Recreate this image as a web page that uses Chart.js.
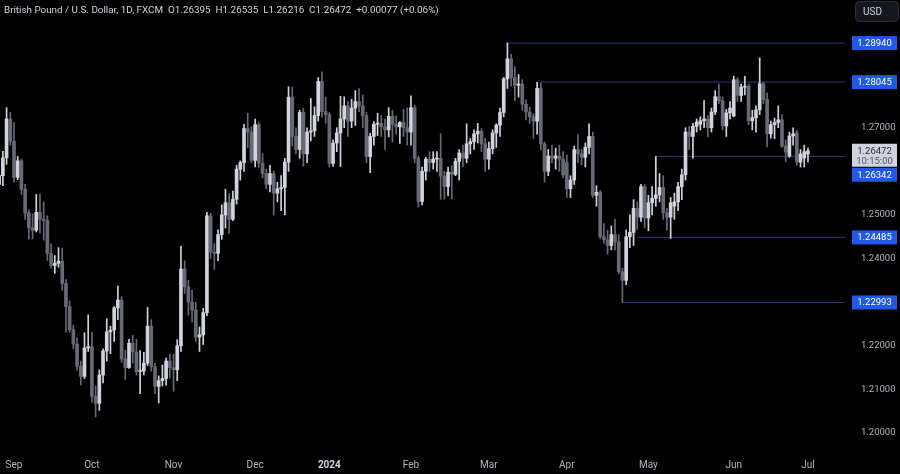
<!DOCTYPE html>
<html>
<head>
<meta charset="utf-8">
<script src="https://cdn.jsdelivr.net/npm/chart.js@4.4.1/dist/chart.umd.min.js"></script>
<style>
  html, body { margin: 0; padding: 0; background: #000; }
  #wrap { width: 900px; height: 474px; }
</style>
</head>
<body>
<div id="wrap"><canvas id="chartPrice" width="900" height="474"></canvas></div>
<script>
// GBP/USD daily candles, FXCM, 28 Aug 2023 - 1 Jul 2024 (no bars on 25 Dec / 1 Jan)
const opens = [
  1.2570, 1.2590, 1.2631, 1.2720,
  1.2669, 1.2586, 1.2624, 1.2559, 1.2505, 1.2471, 1.2465, 1.2506, 1.2490, 1.2487, 1.2412, 1.2384, 1.2389, 1.2394, 1.2343, 1.2290, 1.2237, 1.2204, 1.2153, 1.2130, 1.2195,
  1.2198, 1.2084, 1.2068, 1.2133, 1.2188, 1.2232, 1.2236, 1.2287, 1.2305, 1.2170, 1.2150, 1.2206, 1.2186, 1.2141, 1.2142, 1.2160, 1.2245, 1.2152, 1.2107, 1.2120, 1.2125, 1.2165,
  1.2150, 1.2145, 1.2200, 1.2376, 1.2335, 1.2300, 1.2282, 1.2220, 1.2225, 1.2276, 1.2498, 1.2415, 1.2412, 1.2455, 1.2500, 1.2528, 1.2490, 1.2536, 1.2605, 1.2620, 1.2698, 1.2690,
  1.2625, 1.2707, 1.2619, 1.2595, 1.2570, 1.2595, 1.2550, 1.2560, 1.2563, 1.2621, 1.2770, 1.2680, 1.2650, 1.2735, 1.2640, 1.2690, 1.2693, 1.2728, 1.2806, 1.2737,
  1.2730, 1.2618, 1.2665, 1.2688, 1.2720, 1.2750, 1.2715, 1.2745, 1.2760, 1.2750, 1.2728, 1.2634, 1.2680, 1.2708, 1.2710, 1.2702, 1.2695, 1.2726, 1.2708, 1.2702, 1.2712, 1.2700,
  1.2690, 1.2746, 1.2630, 1.2531, 1.2600, 1.2628, 1.2620, 1.2628, 1.2630, 1.2589, 1.2565, 1.2598, 1.2593, 1.2623, 1.2642, 1.2630, 1.2663, 1.2668, 1.2686, 1.2692, 1.2663,
  1.2628, 1.2652, 1.2688, 1.2706, 1.2735, 1.2812, 1.2858, 1.2815, 1.2797, 1.2800, 1.2754, 1.2736, 1.2725, 1.2715, 1.2790, 1.2663, 1.2600, 1.2635, 1.2630, 1.2635, 1.2628,
  1.2620, 1.2560, 1.2580, 1.2650, 1.2640, 1.2632, 1.2655, 1.2680, 1.2545, 1.2552, 1.2450, 1.2443, 1.2430, 1.2455, 1.2438, 1.2370, 1.2350, 1.2450, 1.2460, 1.2515, 1.2495, 1.2565,
  1.2493, 1.2528, 1.2538, 1.2546, 1.2563, 1.2505, 1.2495, 1.2520, 1.2530, 1.2565, 1.2592, 1.2690, 1.2680, 1.2703, 1.2708, 1.2716, 1.2720, 1.2700, 1.2736, 1.2771, 1.2762, 1.2704, 1.2734,
  1.2727, 1.2810, 1.2774, 1.2793, 1.2795, 1.2716, 1.2723, 1.2741, 1.2801, 1.2765, 1.2686, 1.2707, 1.2712, 1.2718, 1.2658, 1.2635, 1.2681, 1.2688, 1.2621, 1.2630,
  1.26395
];
const highs = [
  1.2605, 1.2646, 1.2746, 1.2735,
  1.2712, 1.2634, 1.2628, 1.2570, 1.2512, 1.2503, 1.2547, 1.2548, 1.2530, 1.2498, 1.2434, 1.2407, 1.2425, 1.2424, 1.2352, 1.2303, 1.2247, 1.2218, 1.2165, 1.2230, 1.2271,
  1.2231, 1.2108, 1.2145, 1.2193, 1.2262, 1.2245, 1.2290, 1.2337, 1.2312, 1.2190, 1.2215, 1.2224, 1.2215, 1.2189, 1.2185, 1.2288, 1.2260, 1.2160, 1.2131, 1.2156, 1.2172, 1.2181,
  1.2181, 1.2214, 1.2428, 1.2395, 1.2350, 1.2328, 1.2300, 1.2243, 1.2286, 1.2506, 1.2504, 1.2434, 1.2466, 1.2523, 1.2559, 1.2549, 1.2555, 1.2614, 1.2624, 1.2708, 1.2733, 1.2702,
  1.2720, 1.2712, 1.2640, 1.2605, 1.2614, 1.2601, 1.2575, 1.2590, 1.2630, 1.2794, 1.2793, 1.2700, 1.2740, 1.2745, 1.2700, 1.2767, 1.2748, 1.2815, 1.2828, 1.2770,
  1.2735, 1.2672, 1.2700, 1.2772, 1.2771, 1.2760, 1.2765, 1.2785, 1.2790, 1.2775, 1.2735, 1.2687, 1.2714, 1.2733, 1.2728, 1.2720, 1.2746, 1.2740, 1.2727, 1.2714, 1.2742, 1.2745,
  1.2773, 1.2752, 1.2635, 1.2610, 1.2632, 1.2645, 1.2645, 1.2645, 1.2686, 1.2600, 1.2610, 1.2613, 1.2630, 1.2650, 1.2660, 1.2709, 1.2675, 1.2695, 1.2710, 1.2698, 1.2675,
  1.2667, 1.2695, 1.2709, 1.2745, 1.2815, 1.2894, 1.2868, 1.2840, 1.2822, 1.2810, 1.2764, 1.2747, 1.2732, 1.2804, 1.2803, 1.2667, 1.2650, 1.2660, 1.2653, 1.2660, 1.2645,
  1.2637, 1.2590, 1.2658, 1.2684, 1.2650, 1.2665, 1.2709, 1.2690, 1.2567, 1.2556, 1.2480, 1.2465, 1.2475, 1.2490, 1.2455, 1.2378, 1.2466, 1.2500, 1.2535, 1.2530, 1.2570, 1.2570,
  1.2545, 1.2565, 1.2634, 1.2595, 1.2590, 1.2515, 1.2540, 1.2550, 1.2575, 1.2605, 1.2700, 1.2703, 1.2710, 1.2720, 1.2725, 1.2762, 1.2728, 1.2745, 1.2785, 1.2800, 1.2770, 1.2742, 1.2760,
  1.2818, 1.2815, 1.2800, 1.2818, 1.2800, 1.2740, 1.2750, 1.2860, 1.2805, 1.2780, 1.2715, 1.2722, 1.2750, 1.2730, 1.2672, 1.2690, 1.2700, 1.2694, 1.2650, 1.2660,
  1.26535
];
const lows = [
  1.2565, 1.2567, 1.2616, 1.2660,
  1.2575, 1.2581, 1.2547, 1.2490, 1.2445, 1.2445, 1.2461, 1.2458, 1.2442, 1.2396, 1.2378, 1.2366, 1.2380, 1.2327, 1.2231, 1.2231, 1.2193, 1.2144, 1.2110, 1.2125, 1.2187,
  1.2071, 1.2037, 1.2052, 1.2115, 1.2165, 1.2182, 1.2210, 1.2260, 1.2162, 1.2123, 1.2148, 1.2160, 1.2133, 1.2090, 1.2133, 1.2155, 1.2142, 1.2090, 1.2069, 1.2108, 1.2110, 1.2126,
  1.2096, 1.2120, 1.2187, 1.2320, 1.2270, 1.2255, 1.2210, 1.2187, 1.2203, 1.2269, 1.2400, 1.2375, 1.2395, 1.2444, 1.2470, 1.2458, 1.2487, 1.2525, 1.2580, 1.2600, 1.2654, 1.2620,
  1.2610, 1.2609, 1.2585, 1.2560, 1.2553, 1.2500, 1.2530, 1.2510, 1.2500, 1.2600, 1.2658, 1.2640, 1.2630, 1.2612, 1.2620, 1.2670, 1.2680, 1.2715, 1.2724, 1.2710,
  1.2610, 1.2611, 1.2645, 1.2611, 1.2700, 1.2680, 1.2700, 1.2705, 1.2737, 1.2700, 1.2620, 1.2597, 1.2660, 1.2682, 1.2680, 1.2650, 1.2679, 1.2667, 1.2685, 1.2664, 1.2680, 1.2660,
  1.2660, 1.2620, 1.2518, 1.2523, 1.2580, 1.2600, 1.2605, 1.2600, 1.2536, 1.2536, 1.2544, 1.2537, 1.2590, 1.2580, 1.2610, 1.2620, 1.2640, 1.2650, 1.2665, 1.2645, 1.2600,
  1.2605, 1.2640, 1.2655, 1.2680, 1.2725, 1.2790, 1.2795, 1.2762, 1.2770, 1.2740, 1.2718, 1.2710, 1.2675, 1.2685, 1.2650, 1.2575, 1.2590, 1.2619, 1.2605, 1.2600, 1.2585,
  1.2540, 1.2540, 1.2570, 1.2620, 1.2615, 1.2610, 1.2640, 1.2540, 1.2520, 1.2445, 1.2435, 1.2410, 1.2420, 1.2420, 1.2365, 1.2299, 1.2340, 1.2425, 1.2430, 1.2467, 1.2485, 1.2470,
  1.2464, 1.2500, 1.2520, 1.2530, 1.2490, 1.2465, 1.2446, 1.2490, 1.2510, 1.2535, 1.2580, 1.2650, 1.2630, 1.2690, 1.2695, 1.2700, 1.2679, 1.2690, 1.2730, 1.2755, 1.2695, 1.2680, 1.2720,
  1.2725, 1.2760, 1.2760, 1.2775, 1.2707, 1.2695, 1.2690, 1.2730, 1.2755, 1.2656, 1.2676, 1.2675, 1.2700, 1.2655, 1.2622, 1.2632, 1.2660, 1.2614, 1.2610, 1.2610,
  1.26216
];
const closes = [
  1.2590, 1.2631, 1.2720, 1.2669,
  1.2586, 1.2624, 1.2559, 1.2505, 1.2471, 1.2465, 1.2506, 1.2490, 1.2487, 1.2412, 1.2384, 1.2389, 1.2394, 1.2343, 1.2290, 1.2237, 1.2204, 1.2153, 1.2130, 1.2195, 1.2198,
  1.2084, 1.2068, 1.2133, 1.2188, 1.2232, 1.2236, 1.2287, 1.2305, 1.2170, 1.2150, 1.2206, 1.2186, 1.2141, 1.2142, 1.2160, 1.2245, 1.2152, 1.2107, 1.2120, 1.2125, 1.2165, 1.2150,
  1.2145, 1.2200, 1.2376, 1.2335, 1.2300, 1.2282, 1.2220, 1.2225, 1.2276, 1.2498, 1.2415, 1.2412, 1.2455, 1.2500, 1.2528, 1.2490, 1.2536, 1.2605, 1.2620, 1.2698, 1.2690, 1.2625,
  1.2707, 1.2619, 1.2595, 1.2570, 1.2595, 1.2550, 1.2560, 1.2563, 1.2621, 1.2770, 1.2680, 1.2650, 1.2735, 1.2640, 1.2690, 1.2693, 1.2728, 1.2806, 1.2737, 1.2730,
  1.2618, 1.2665, 1.2688, 1.2720, 1.2750, 1.2715, 1.2745, 1.2760, 1.2750, 1.2728, 1.2634, 1.2680, 1.2708, 1.2710, 1.2702, 1.2695, 1.2726, 1.2708, 1.2702, 1.2712, 1.2700, 1.2690,
  1.2746, 1.2630, 1.2531, 1.2600, 1.2628, 1.2620, 1.2628, 1.2630, 1.2589, 1.2565, 1.2598, 1.2593, 1.2623, 1.2642, 1.2630, 1.2663, 1.2668, 1.2686, 1.2692, 1.2663, 1.2628,
  1.2652, 1.2688, 1.2706, 1.2735, 1.2812, 1.2858, 1.2815, 1.2797, 1.2800, 1.2754, 1.2736, 1.2725, 1.2715, 1.2790, 1.2663, 1.2600, 1.2635, 1.2630, 1.2635, 1.2628, 1.2592,
  1.2560, 1.2580, 1.2650, 1.2640, 1.2632, 1.2655, 1.2680, 1.2545, 1.2552, 1.2450, 1.2443, 1.2430, 1.2455, 1.2438, 1.2370, 1.2350, 1.2450, 1.2460, 1.2515, 1.2495, 1.2565, 1.2493,
  1.2528, 1.2538, 1.2546, 1.2563, 1.2505, 1.2495, 1.2528, 1.2530, 1.2565, 1.2592, 1.2690, 1.2680, 1.2703, 1.2713, 1.2716, 1.2720, 1.2700, 1.2736, 1.2771, 1.2762, 1.2704, 1.2734, 1.2745,
  1.2810, 1.2774, 1.2793, 1.2795, 1.2716, 1.2723, 1.2741, 1.2801, 1.2765, 1.2686, 1.2707, 1.2712, 1.2718, 1.2658, 1.2644, 1.2681, 1.2686, 1.2621, 1.2640, 1.2645,
  1.26472
];

// time axis: first bar of each month (index into the arrays above)
const monthLabels = ["Sep", "Oct", "Nov", "Dec", "2024", "Feb", "Mar", "Apr", "May", "Jun", "Jul"];
const monthStarts = [4, 25, 47, 69, 89, 111, 132, 153, 175, 198, 218];

// price axis
const priceTicks = [1.20, 1.21, 1.22, 1.24, 1.25, 1.27];

// horizontal levels and the bar they are drawn from
const levelValues = [1.28940, 1.28045, 1.26342, 1.24485, 1.22993];
const levelStarts = [137, 146, 177, 172, 168];

const header = "British Pound / U.S. Dollar, 1D, FXCM";
const ohlcText = "O1.26395  H1.26535  L1.26216  C1.26472  +0.00077 (+0.06%)";
const countdown = "10:15:00";

const UP = "#d1d4dc";
const DOWN = "#676a75";
const LEVEL = "#2c3479";
const FONT = "Roboto, 'Liberation Sans', sans-serif";

const X_MIN = 0.226, X_MAX = 227.99;
const Y_MIN = 1.19611, Y_MAX = 1.29928;

const candleColors = closes.map((c, i) => (c >= opens[i] ? UP : DOWN));

const levelSets = levelValues.map((v, k) => ({
  type: "line",
  data: [{ x: levelStarts[k], y: v }, { x: X_MAX, y: v }],
  borderColor: LEVEL,
  borderWidth: 1,
  pointRadius: 0,
  order: 5,
}));

// no extra room around the plot: TradingView lets the candles run to the edges
const noPad = s => {
  s.paddingTop = 0;
  s.paddingBottom = 0;
  s.paddingLeft = 0;
  s.paddingRight = 0;
};

const overlay = {
  id: "overlay",
  beforeDraw(chart) {
    const c = chart.ctx;
    c.save();
    c.fillStyle = "#000";
    c.fillRect(0, 0, chart.width, chart.height);
    c.restore();
  },
  afterDraw(chart) {
    const c = chart.ctx;
    const y = chart.scales.y;
    c.save();

    // header line
    c.font = "9.85px " + FONT;
    c.textBaseline = "middle";
    c.textAlign = "left";
    c.fillStyle = "#d1d4dc";
    c.fillText(header, 4, 11);
    const w = c.measureText(header + "  ").width;
    c.fillText(ohlcText, 4 + w, 11);

    // USD button
    c.fillStyle = "#15171c";
    c.strokeStyle = "#2a2e39";
    c.beginPath();
    c.roundRect(855.5, 1.5, 43, 20, 4);
    c.fill();
    c.stroke();
    c.fillStyle = "#d1d4dc";
    c.font = "10px " + FONT;
    c.fillText("USD", 863, 12);

    // level labels
    const boxX = 852, boxW = 45;
    const last = closes[closes.length - 1];
    const py = y.getPixelForValue(last);
    const pTop = py - 7, pBot = py + 16;
    c.font = "9.5px " + FONT;
    c.textAlign = "center";
    levelValues.forEach(v => {
      let ly = y.getPixelForValue(v);
      if (ly > pTop - 7 && ly < pBot + 7) ly = pBot + 8;
      c.fillStyle = "#2058e8";
      c.fillRect(boxX, ly - 7, boxW, 14);
      c.fillStyle = "#ffffff";
      c.fillText(v.toFixed(5), boxX + boxW / 2, ly + 0.5);
    });

    // last price + countdown
    c.fillStyle = "#d1d4dc";
    c.fillRect(boxX, pTop, boxW, pBot - pTop);
    c.fillStyle = "#2a2e39";
    c.fillText(last.toFixed(5), boxX + boxW / 2, py + 1);
    c.fillStyle = "#50535e";
    c.fillText(countdown, boxX + boxW / 2, py + 11);
    c.restore();
  },
};

const ctx = document.getElementById("chartPrice").getContext("2d");

const priceChart = new Chart(ctx, {
  type: "bar",
  data: {
    datasets: [
      {
        label: "body",
        data: opens.map((o, i) => ({ x: i, y: [o, closes[i]] })),
        backgroundColor: candleColors,
        barThickness: 3,
        minBarLength: 1,
        grouped: false,
        borderWidth: 0,
        order: 1,
      },
      {
        label: "wick",
        data: lows.map((l, i) => ({ x: i, y: [l, highs[i]] })),
        backgroundColor: candleColors,
        barThickness: 1,
        grouped: false,
        borderWidth: 0,
        order: 2,
      },
      ...levelSets,
    ],
  },
  options: {
    responsive: false,
    animation: false,
    events: [],
    layout: { padding: 0, autoPadding: false },
    plugins: {
      legend: { display: false },
      tooltip: { enabled: false },
    },
    scales: {
      x: {
        type: "linear",
        min: X_MIN,
        max: X_MAX,
        offset: false,
        grid: { display: false, drawTicks: false },
        border: { display: false },
        afterFit: s => { s.height = 24; noPad(s); },
        afterBuildTicks: s => { s.ticks = monthStarts.map(v => ({ value: v })); },
        ticks: {
          autoSkip: false,
          maxRotation: 0,
          padding: 9,
          callback: (v, i) => monthLabels[i],
          color: c => (monthLabels[c.index] === "2024" ? "#d1d4dc" : "#b2b5be"),
          font: c => ({
            family: FONT,
            size: 10,
            weight: monthLabels[c.index] === "2024" ? "bold" : "normal",
          }),
        },
      },
      y: {
        type: "linear",
        position: "right",
        min: Y_MIN,
        max: Y_MAX,
        grid: { display: false, drawTicks: false },
        border: { display: false },
        afterFit: s => { s.width = 55; noPad(s); },
        afterBuildTicks: s => { s.ticks = priceTicks.map(v => ({ value: v })); },
        ticks: {
          padding: 16,
          color: "#b2b5be",
          font: { family: FONT, size: 9.5 },
          callback: v => v.toFixed(5),
        },
      },
    },
  },
  plugins: [overlay],
});
</script>
</body>
</html>
